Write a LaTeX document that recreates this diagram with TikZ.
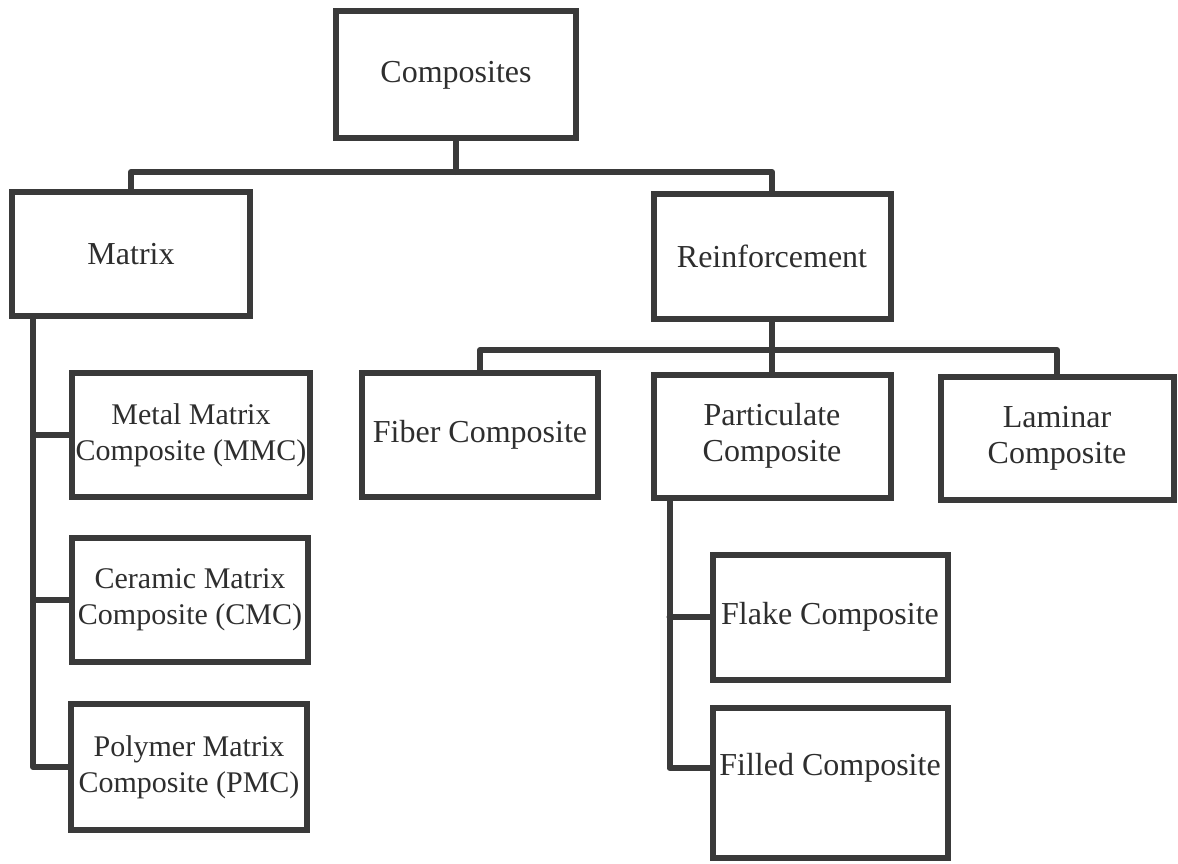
\documentclass[tikz,border=0pt]{standalone}
\usepackage{fontspec}
\setmainfont{LiberationSerif}[Extension=.ttf, UprightFont=*-Regular, BoldFont=*-Bold, ItalicFont=*-Italic, BoldItalicFont=*-BoldItalic]
\definecolor{lc}{HTML}{3A3A3A}
\definecolor{tc}{HTML}{2E2E2E}
\tikzset{
  box/.style={draw=lc, line width=6pt, rectangle, align=center, inner sep=0pt,
    text=tc, font=\fontsize{32}{36}\selectfont},
  smallbox/.style={box, font=\fontsize{30}{36}\selectfont},
  conn/.style={draw=lc, line width=6pt, line join=round, line cap=round}
}
\begin{document}
\begin{tikzpicture}[x=1pt,y=-1pt]
\useasboundingbox (0,0) rectangle (1178,864);
% level 0
\node[box, minimum width=240, minimum height=127] (comp) at (456,75) {Composites};
% level 1
\node[box, minimum width=238, minimum height=124] (matrix) at (131,254) {Matrix};
\node[box, minimum width=237, minimum height=125] (reinf) at (772,256) {Reinforcement};
% reinforcement children
\node[box, minimum width=236, minimum height=124] (fiber) at (480,435) {Fiber Composite};
\node[box, minimum width=237, minimum height=123] (part) at (772,436) {Particulate\\Composite};
\node[box, minimum width=233, minimum height=123] (lam) at (1057,438) {Laminar\\Composite};
% matrix children
\node[smallbox, minimum width=238, minimum height=124] (mmc) at (191,435) {Metal Matrix\\Composite (MMC)};
\node[smallbox, minimum width=236, minimum height=124] (cmc) at (190,600) {Ceramic Matrix\\Composite (CMC)};
\node[smallbox, minimum width=236, minimum height=126] (pmc) at (189,767) {Polymer Matrix\\Composite (PMC)};
% particulate children
\node[box, minimum width=235, minimum height=125] (flake) at (830,617) {Flake Composite};
\node[box, minimum width=235, minimum height=150] (filled) at (830,783) {};
\node[text=tc, font=\fontsize{32}{36}\selectfont, inner sep=0pt] (filledtxt) at (830,768) {Filled Composite};
% connectors
\coordinate (j1) at (456,172);
\draw[conn] (comp.south) -- (j1);
\draw[conn] (j1) -| (matrix.north);
\draw[conn] (j1) -| (reinf.north);
\coordinate (j2) at (772,350);
\draw[conn] (reinf.south) -- (part.north);
\draw[conn] (j2) -| (fiber.north);
\draw[conn] (j2) -| (lam.north);
\coordinate (mv) at ([xshift=24pt]matrix.south west);
\draw[conn] (mv) |- (pmc.west);
\draw[conn] (mmc.west) -- (mmc.west -| mv);
\draw[conn] (cmc.west) -- (cmc.west -| mv);
\coordinate (pv) at ([xshift=19pt]part.south west);
\draw[conn] (pv) |- (filled.west |- filledtxt);
\draw[conn] (flake.west) -- (flake.west -| pv);
\end{tikzpicture}
\end{document}
